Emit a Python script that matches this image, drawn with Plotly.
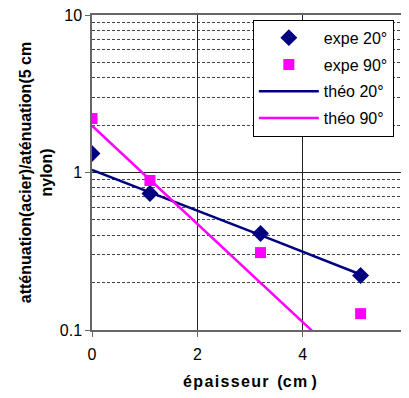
import plotly.graph_objects as go

x_expe = [0, 1.1, 3.2, 5.1]
expe_20 = [1.32, 0.735, 0.41, 0.222]
expe_90 = [2.2, 0.89, 0.31, 0.127]
x_theo = [0, 1.1, 3.2, 5.1]
theo_20 = [1.04, 0.75, 0.40, 0.225]
theo_90 = [1.98, 0.90, 0.20, 0.051]

navy = "#000080"
magenta = "#FF00FF"

fig = go.Figure()
fig.add_trace(go.Scatter(x=x_expe, y=expe_20, mode="markers", name="expe 20°", legendgroup="a",
                         marker=dict(symbol="diamond", size=13, color=navy)))
fig.add_trace(go.Scatter(x=x_expe, y=expe_90, mode="markers", name="expe 90°", legendgroup="b",
                         marker=dict(symbol="square", size=11, color=magenta)))
fig.add_trace(go.Scatter(x=x_theo, y=theo_20, mode="lines", name="théo 20°", legendgroup="c",
                         line=dict(color=navy, width=2.5)))
fig.add_trace(go.Scatter(x=x_theo, y=theo_90, mode="lines", name="théo 90°", legendgroup="d",
                         line=dict(color=magenta, width=2.5)))

font = "Liberation Sans, Arial, sans-serif"
hs = "\u200a"
xtitle = hs.join("épaisseur") + "  (" + hs.join("cm") + " )"
fig.update_layout(
    width=401, height=390,
    margin=dict(l=84, r=1, t=7, b=68),
    paper_bgcolor="white", plot_bgcolor="white",
    font=dict(family=font, size=16, color="black"),
    showlegend=True,
    legend=dict(x=0.509, y=0.985, xanchor="left", yanchor="top",
                bgcolor="white", bordercolor="black", borderwidth=1,
                font=dict(size=16), tracegroupgap=3, itemwidth=60),
    xaxis=dict(range=[0, 6], dtick=2, showgrid=True, gridcolor="#222", gridwidth=1,
               zeroline=False, showline=True, linecolor="#666", linewidth=1.5, mirror=True,
               ticks="outside", ticklen=5, tickcolor="#666", automargin=False,
               tickfont=dict(size=16), ticklabeloverflow="allow", ticklabelstandoff=4,
               title=dict(text="<b>" + xtitle + "</b>", font=dict(size=16), standoff=14)),
    yaxis=dict(type="log", range=[-1, 1], dtick=1, showgrid=True, gridcolor="#222", gridwidth=1,
               tickvals=[0.1, 1, 10], ticktext=["0.1", "1", "10"], tickfont=dict(size=16),
               ticklabeloverflow="allow",
               minor=dict(dtick="D1", showgrid=True, gridcolor="#444", griddash="3px,2px", gridwidth=1),
               zeroline=False, showline=True, linecolor="#666", linewidth=1.5, mirror=True,
               ticks="outside", ticklen=5, tickcolor="#666", automargin=False,
               title=dict(text="<b>atténuation(acier)/aténuation(5 cm<br>nylon)</b>",
                          font=dict(size=16), standoff=3)),
)

fig.write_html("out.html")
